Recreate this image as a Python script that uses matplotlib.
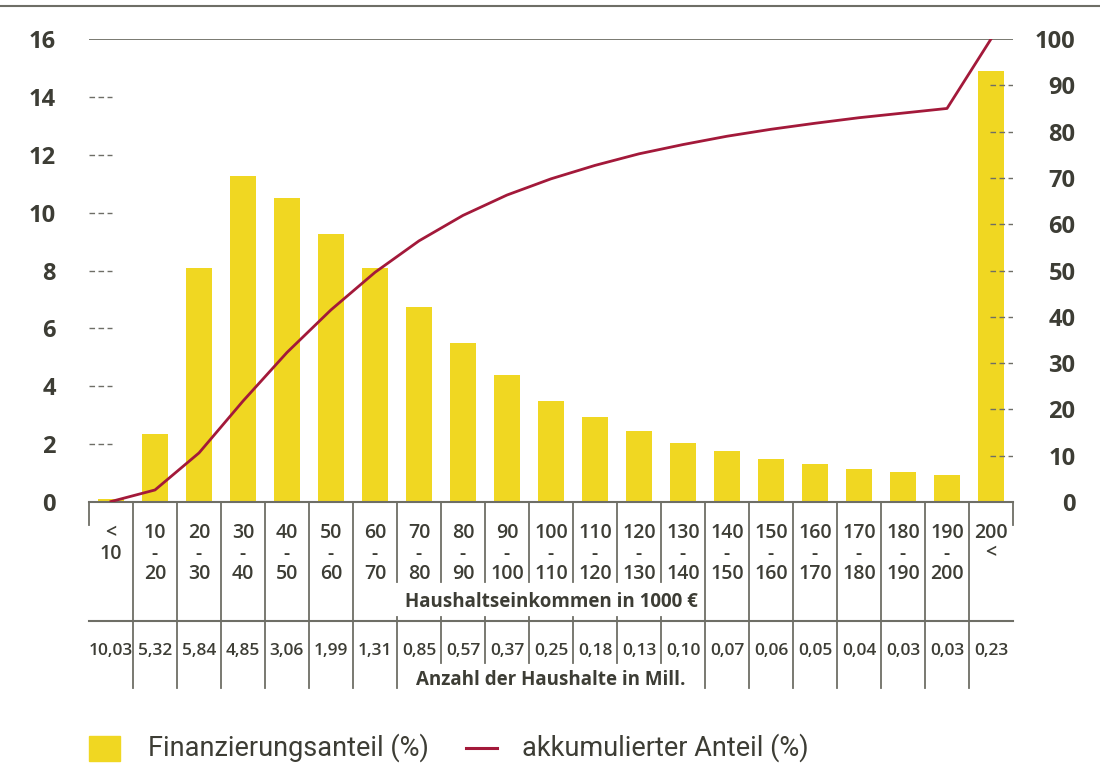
import numpy as np
import matplotlib.pyplot as plt
from matplotlib.lines import Line2D
from matplotlib.patches import Rectangle
from matplotlib.transforms import blended_transform_factory

# Einkommensklassen (obere / untere Zeile der Tabelle)
klasse_von = ['<', '10', '20', '30', '40', '50', '60', '70', '80', '90', '100',
              '110', '120', '130', '140', '150', '160', '170', '180', '190', '200']
klasse_bis = ['10', '20', '30', '40', '50', '60', '70', '80', '90', '100', '110',
              '120', '130', '140', '150', '160', '170', '180', '190', '200', '<']
haushalte = ['10,03', '5,32', '5,84', '4,85', '3,06', '1,99', '1,31', '0,85', '0,57',
             '0,37', '0,25', '0,18', '0,13', '0,10', '0,07', '0,06', '0,05', '0,04',
             '0,03', '0,03', '0,23']
anteil = [0.1, 2.35, 8.1, 11.25, 10.5, 9.25, 8.1, 6.75, 5.5, 4.4, 3.5, 2.95, 2.45,
          2.05, 1.75, 1.5, 1.3, 1.15, 1.05, 0.95, 14.9]
kumuliert = [0.1, 2.6, 10.6, 21.8, 32.3, 41.5, 49.6, 56.4, 61.9, 66.3, 69.8, 72.7,
             75.2, 77.2, 79.0, 80.5, 81.8, 83.0, 84.0, 85.0, 100.0]

gelb = '#f0d722'
rot = '#a3193a'
grau = '#6e6e66'
textfarbe = '#3d3d35'
W, H = 1100, 769

plt.rcParams['font.family'] = ['Open Sans', 'DejaVu Sans']

fig = plt.figure(figsize=(W / 100, H / 100), dpi=100)
ax = fig.add_axes([89 / W, 1 - 502 / H, 924 / W, 463 / H])
ax2 = ax.twinx()

x = np.arange(len(anteil))
ax.bar(x, anteil, width=0.57, color=gelb, zorder=2)
ax2.plot(x, kumuliert, color=rot, lw=2, zorder=3)

ax.set_xlim(-0.5, len(anteil) - 0.5)
ax.set_ylim(0, 16)
ax2.set_ylim(0, 100)
for a in (ax, ax2):
    for s in a.spines.values():
        s.set_visible(False)
    a.set_xticks([])
ax2.patch.set_visible(False)

# Achsenbeschriftungen
ax.set_yticks(range(0, 17, 2))
ax.tick_params(axis='y', length=0, pad=24, labelsize=17, labelcolor=textfarbe)
ax2.set_yticks(range(0, 101, 10))
ax2.tick_params(axis='y', length=0, pad=45, labelsize=17, labelcolor=textfarbe)
for lab in ax.get_yticklabels() + ax2.get_yticklabels():
    lab.set_fontweight('bold')
for lab in ax2.get_yticklabels():
    lab.set_horizontalalignment('right')

# Hilfslinien
ax.axhline(16, color=grau, lw=1.3, zorder=1)
ax.axhline(0, color=grau, lw=1.5, zorder=4, clip_on=False)
ax.hlines(range(2, 16, 2), -0.5, 0.02, colors=grau, lw=1, linestyles=(0, (4, 2.5)))
ax2.hlines(range(10, 100, 10), 19.98, 20.5, colors=grau, lw=1, linestyles=(0, (4, 2.5)),
           zorder=1)

# obere Linie
fig.add_artist(Line2D([0, 1], [1 - 6 / H, 1 - 6 / H], transform=fig.transFigure,
                      color=grau, lw=1.5))

# Tabelle unter dem Diagramm
tr = blended_transform_factory(ax.transData, fig.transFigure)


def fy(p):
    return 1 - p / H


def vlinie(xv, y0, y1):
    fig.add_artist(Line2D([xv, xv], [fy(y0), fy(y1)], transform=tr, color=grau, lw=1.3))


n = len(anteil)
vlinie(-0.5, 502, 525)
vlinie(n - 0.5, 502, 525)
for b in np.arange(0.5, n - 1, 1.0):
    if b == 6.5:
        vlinie(b, 502, 582)
        vlinie(b, 617, 688)
    elif 7.5 <= b <= 12.5:
        vlinie(b, 502, 582)
        vlinie(b, 617, 663)
    else:
        vlinie(b, 502, 688)
fig.add_artist(Line2D([-0.5, n - 0.5], [fy(621), fy(621)], transform=tr,
                      color=grau, lw=1.5))

tkw = dict(transform=tr, ha='center', va='top', color=textfarbe, fontsize=14,
           fontweight='semibold', linespacing=1.04, multialignment='center')
for i in range(n):
    if i == 0 or i == n - 1:
        label = klasse_von[i] + '\n' + klasse_bis[i]
    else:
        label = klasse_von[i] + '\n-\n' + klasse_bis[i]
    fig.text(i, fy(523), label, **tkw)
    fig.text(i, fy(655), haushalte[i], transform=tr, ha='center', color=textfarbe,
             fontsize=12.5, fontweight='semibold')

fig.text(10, fy(607), 'Haushaltseinkommen in 1000 €', transform=tr, ha='center',
         color=textfarbe, fontsize=13.5, fontweight='bold')
fig.text(10, fy(685), 'Anzahl der Haushalte in Mill.', transform=tr, ha='center',
         color=textfarbe, fontsize=13.5, fontweight='bold')

# Legende
fig.add_artist(Rectangle((89 / W, fy(761)), 31 / W, 25 / H, transform=fig.transFigure,
                         color=gelb))
fig.add_artist(Line2D([466 / W, 497 / W], [fy(748), fy(748)], transform=fig.transFigure,
                      color=rot, lw=2.2))
lkw = dict(va='center', color=textfarbe, fontsize=19.5, family=['Roboto', 'DejaVu Sans'])
fig.text(148 / W, fy(748), 'Finanzierungsanteil (%)', **lkw)
fig.text(522 / W, fy(748), 'akkumulierter Anteil (%)', **lkw)

fig.savefig('out.png', dpi=100)
